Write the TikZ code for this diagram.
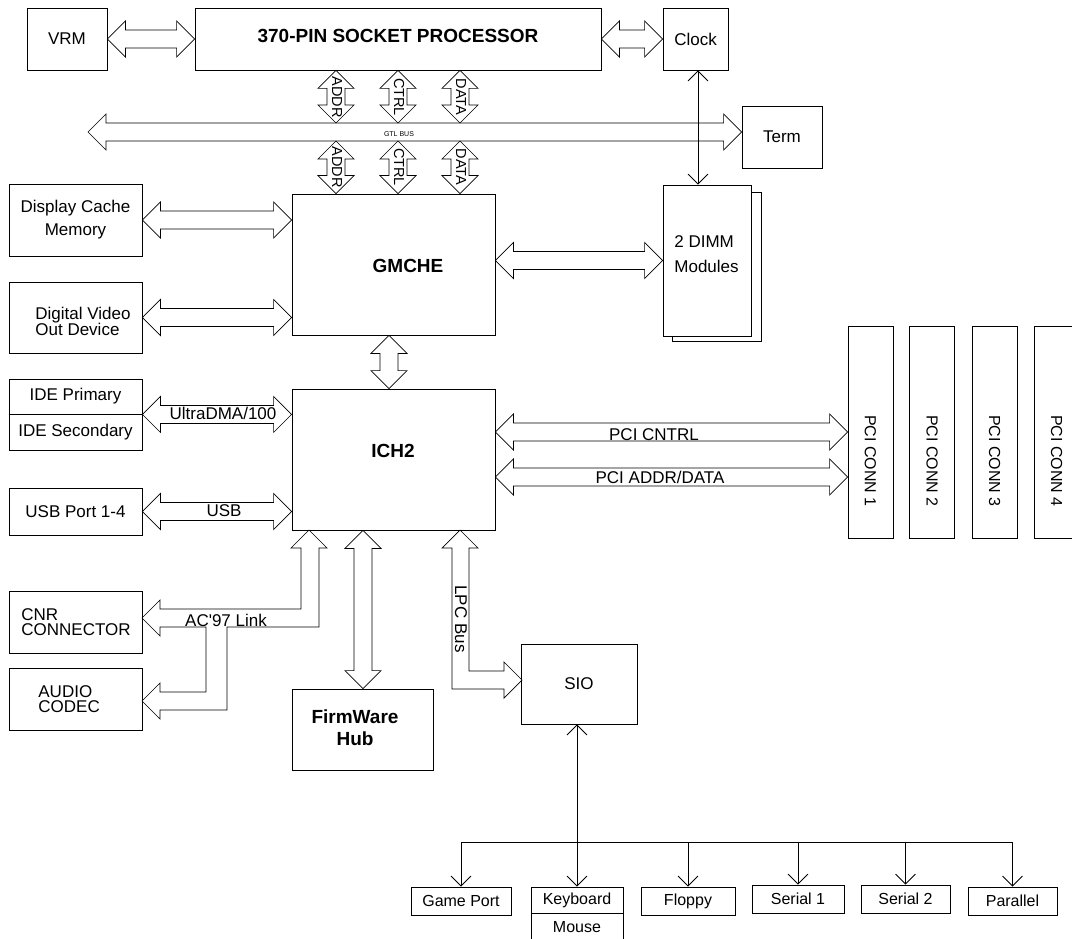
\documentclass[tikz,border=0pt]{standalone}
\usepackage{fontspec}
\setmainfont{Liberation Sans}
\usetikzlibrary{calc,arrows.meta}

\tikzset{
  box/.style={draw, inner sep=0pt, align=center, font=\fontsize{17}{23}\selectfont},
  txt/.style={inner sep=0pt, font=\fontsize{17}{23}\selectfont},
  bold/.style={inner sep=0pt, align=center, font=\fontsize{19}{22}\selectfont\bfseries},
  vtxt/.style={inner sep=0pt, rotate=-90, font=\fontsize{14.5}{16}\selectfont},
  dev/.style={draw, inner sep=0pt, font=\fontsize{16}{18}\selectfont},
  busline/.style={line width=0.7pt, line join=miter},
}

% hollow double-headed bus arrow between two points
\newcommand{\busarrow}[2]{%
  \draw[busline] (#1)
    -- ($($(#1)!18pt!(#2)$)!18pt!90:(#2)$)
    -- ($($(#1)!18pt!(#2)$)!9pt!90:(#2)$)
    -- ($($(#2)!18pt!(#1)$)!9pt!-90:(#1)$)
    -- ($($(#2)!18pt!(#1)$)!18pt!-90:(#1)$)
    -- (#2)
    -- ($($(#2)!18pt!(#1)$)!18pt!90:(#1)$)
    -- ($($(#2)!18pt!(#1)$)!9pt!90:(#1)$)
    -- ($($(#1)!18pt!(#2)$)!9pt!-90:(#2)$)
    -- ($($(#1)!18pt!(#2)$)!18pt!-90:(#2)$)
    -- cycle;}

\begin{document}
\begin{tikzpicture}[x=1pt, y=-1pt, line width=0.8pt, >={Straight Barb[length=10pt,width=20pt]}]
\useasboundingbox (0,0) rectangle (1072,939);

\node[box, minimum width=80pt, minimum height=62pt] (vrm) at (67,39) {VRM};
\node[box, minimum width=406pt, minimum height=62pt] (cpu) at (398,39) {};
\node[bold] (cpulbl) at (398,36) {370-PIN SOCKET PROCESSOR};
\node[box, minimum width=65pt, minimum height=62pt] (clock) at (695.5,39) {Clock};
\node[box, minimum width=80pt, minimum height=62pt] (term) at (782,137) {Term};

\busarrow{vrm.east}{cpu.west}
\busarrow{cpu.east}{clock.west}

% GTL bus
\coordinate (gtlw) at (88,132);
\coordinate (gtln) at (0,123);
\coordinate (gtls) at (0,141);
\busarrow{gtlw}{term.west |- gtlw}
\node[inner sep=0pt, font=\fontsize{7}{8}\selectfont] (gtl) at (399,134) {GTL BUS};

\node[draw, minimum width=89pt, minimum height=149pt] (dimmb) at (716.5,266.5) {};
\node[box, fill=white, minimum width=88pt, minimum height=151pt] (dimm) at (707,260.5) {};
\node[txt, anchor=west, align=left, font=\fontsize{17}{25}\selectfont] (dimmlbl) at (674,254.5) {2 DIMM\\Modules};

\node[box, minimum width=203pt, minimum height=141pt] (gmch) at (393.5,264.5) {};
\node[bold] (gmchlbl) at (408,266) {GMCHE};

\foreach \x/\t in {336/ADDR,398/CTRL,460/DATA}{
  \busarrow{cpu.south -| \x,0}{gtln -| \x,0}
  \busarrow{gtls -| \x,0}{gmch.north -| \x,0}
  \node[vtxt] at (\x+1,97) {\t};
  \node[vtxt] at (\x+1,167) {\t};
}

\draw[<->] (clock.south -| 698,0) -- (dimm.north -| 698,0);

\node[box, minimum width=133pt, minimum height=72pt] (dcm) at (75.5,220) {Display Cache\\Memory};
\node[box, minimum width=133pt, minimum height=71pt] (dvo) at (75.5,317.5) {};
\node[txt, anchor=west, align=left, font=\fontsize{17}{16}\selectfont] (dvolbl) at (35,321) {Digital Video\\Out Device};
\busarrow{dcm.east}{dcm.east -| gmch.west}
\busarrow{dvo.east}{dvo.east -| gmch.west}
\busarrow{gmch.east |- dimm.west}{dimm.west}

\node[box, minimum width=203pt, minimum height=141pt] (ich) at (393.5,459.5) {};
\node[bold] (ichlbl) at (393,451) {ICH2};
\busarrow{gmch.south -| 389,0}{ich.north -| 389,0}

\node[box, minimum width=133pt, minimum height=35pt] (idep) at (75.5,396.5) {IDE Primary};
\node[box, minimum width=133pt, minimum height=36pt] (ides) at (75.5,432) {IDE Secondary};
\draw[line width=1.6pt] (idep.south west) -- (idep.south east);
\busarrow{idep.south east}{idep.south east -| ich.west}
\node[txt] (udma) at (223,413) {UltraDMA/100};

\node[box, minimum width=133pt, minimum height=47pt] (usb) at (75.5,511.5) {USB Port 1-4};
\busarrow{usb.east}{usb.east -| ich.west}
\node[txt] (usblbl) at (224,511) {USB};

\node[box, minimum width=133pt, minimum height=62pt] (cnr) at (75.5,622) {};
\node[txt, anchor=west, align=left, font=\fontsize{17}{15}\selectfont] (cnrlbl) at (21,622.5) {CNR\\CONNECTOR};
\node[box, minimum width=133pt, minimum height=62pt] (codec) at (75.5,699) {};
\node[txt, anchor=west, align=left, font=\fontsize{17}{15}\selectfont] (codeclbl) at (38,699.5) {AUDIO\\CODEC};

% AC'97 link
\draw[busline] (309,530) -- (327,548) -- (319,548) -- (319,627) -- (227,627) -- (227,710)
  -- (160,710) -- (160,719) -- (142,701) -- (160,683) -- (160,692) -- (206,692)
  -- (206,627) -- (160,627) -- (160,636) -- (142,618) -- (160,600) -- (160,609)
  -- (301,609) -- (301,548) -- (291,548) -- cycle;
\node[txt] (aclbl) at (226,620) {AC\textquotesingle97 Link};

\node[box, minimum width=141pt, minimum height=81pt] (fwh) at (362.5,729.5) {};
\node[bold] (fwhlbl) at (355,728) {FirmWare\\Hub};
\busarrow{ich.south -| 363,0}{fwh.north -| 363,0}

\node[box, minimum width=116pt, minimum height=80pt] (sio) at (579,684) {SIO};

% LPC bus
\draw[busline] (460,530) -- (478,548) -- (469,548) -- (469,671) -- (504,671) -- (504,662)
  -- (522,680) -- (504,698) -- (504,689) -- (452,689) -- (452,548) -- (442,548) -- cycle;
\node[txt, rotate=-90] (lpc) at (461,619) {LPC Bus};

\foreach \x/\n in {870.5/1,932/2,994.5/3,1056.5/4}{
  \node[box, minimum width=45pt, minimum height=212pt] (pci\n) at (\x,432) {};
  \node[txt, rotate=-90, font=\fontsize{16}{18}\selectfont] at (\x,461) {PCI CONN \n};
}
\busarrow{ich.east |- 0,432}{pci1.west |- 0,432}
\busarrow{ich.east |- 0,477}{pci1.west |- 0,477}
\node[txt] (pcic) at (654,435) {PCI CNTRL};
\node[txt] (pcia) at (660,477) {PCI ADDR/DATA};

% super I/O devices
\coordinate (sbus) at (0,842);
\node[dev, minimum width=100pt, minimum height=28pt] (gp) at (461,901) {Game Port};
\node[dev, minimum width=92pt, minimum height=26pt] (kbd) at (577,900) {Keyboard};
\node[dev, minimum width=92pt, minimum height=28pt] (mouse) at (577,927) {Mouse};
\node[dev, minimum width=94pt, minimum height=28pt] (fl) at (688,901) {Floppy};
\node[dev, minimum width=92pt, minimum height=28pt] (s1) at (798,899) {Serial 1};
\node[dev, minimum width=89pt, minimum height=28pt] (s2) at (905.5,899) {Serial 2};
\node[dev, minimum width=89pt, minimum height=28pt] (par) at (1012.5,901) {Parallel};

\draw[<->] (sio.south -| kbd.north) -- (kbd.north);
\draw (gp.north |- sbus) -- (par.north |- sbus);
\foreach \b in {gp,fl,s1,s2,par}
  \draw[->] (\b.north |- sbus) -- (\b.north);
\end{tikzpicture}
\end{document}
